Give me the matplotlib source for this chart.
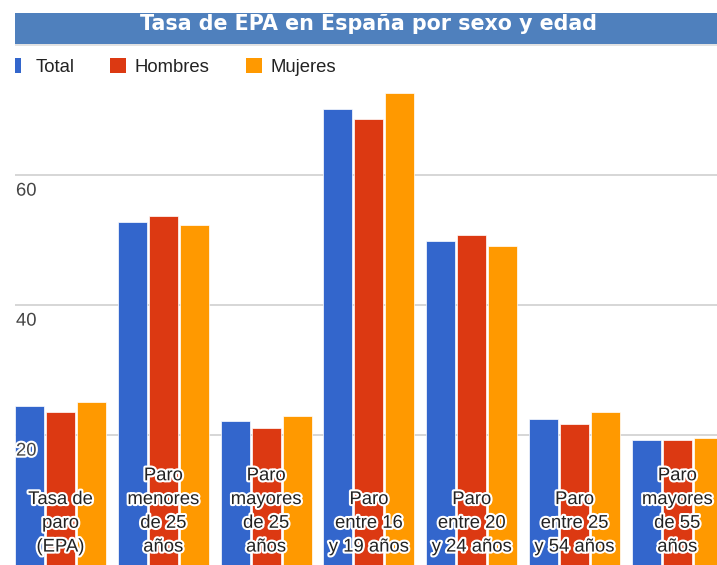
import matplotlib.pyplot as plt
import matplotlib.patheffects as pe
from matplotlib.patches import Rectangle
import numpy as np

plt.rcParams['font.family'] = ['Liberation Sans', 'DejaVu Sans']

# datos
categorias = ['Tasa de\nparo\n(EPA)', 'Paro\nmenores\nde 25\naños', 'Paro\nmayores\nde 25\naños',
              'Paro\nentre 16\ny 19 años', 'Paro\nentre 20\ny 24 años', 'Paro\nentre 25\ny 54 años',
              'Paro\nmayores\nde 55\naños']
series = ['Total', 'Hombres', 'Mujeres']
total = [24.4, 52.8, 22.2, 70.2, 49.9, 22.5, 19.3]
hombres = [23.5, 53.7, 21.1, 68.6, 50.7, 21.7, 19.3]
mujeres = [25.1, 52.3, 23.0, 72.6, 49.1, 23.6, 19.5]
yticks = [20, 40, 60]
colores = ['#3366cc', '#dc3912', '#ff9900']

W, H = 717, 565
fig = plt.figure(figsize=(W / 100, H / 100), dpi=100)


def px(x, y):
    # pixeles (origen arriba-izquierda) -> fracción de la figura
    return x / W, 1 - y / H


# ejes: x de 15 a 717 px, y de 45 a 565 px
ax = fig.add_axes([15 / W, 0, 1 - 15 / W, (H - 45) / H])
x = np.arange(len(categorias))
ancho = 0.282
paso = 0.302
for i, (vals, c) in enumerate(zip([total, hombres, mujeres], colores)):
    ax.bar(x + (i - 1) * paso, vals, ancho, color=c, edgecolor='white', linewidth=0.5, zorder=2)

ax.set_xlim((15 - 60.5) / 102.8, (717 - 60.5) / 102.8)
ax.set_ylim(0, 80)
ax.set_yticks(yticks)
ax.set_yticklabels([])
ax.tick_params(length=0)
ax.set_xticks([])
ax.grid(axis='y', color='#cccccc', linewidth=1.1, zorder=0)
for s in ax.spines.values():
    s.set_visible(False)

halo = [pe.withStroke(linewidth=3, foreground='white')]

# etiquetas del eje y, dentro del gráfico
for v in yticks:
    ax.annotate(str(v), xy=(0, v), xycoords=('axes fraction', 'data'), xytext=(0.7, -5.5),
                textcoords='offset points', va='top', ha='left', fontsize=13.3,
                color='#444444', path_effects=halo, zorder=5)

# etiquetas de categoría dentro de las barras
for xi, lab in zip(x, categorias):
    ax.text(xi, 1.45, lab, ha='center', va='bottom', fontsize=13.3, color='#222222',
            linespacing=1.52, path_effects=halo, zorder=5)

# barra de título
x0, y0 = px(15, 44)
fig.add_artist(Rectangle((x0, y0), 1 - x0, 31 / H, transform=fig.transFigure,
                         facecolor='#4f80bd', edgecolor='none'))
fig.add_artist(Rectangle((x0, px(0, 46)[1]), 1 - x0, 2 / H, transform=fig.transFigure,
                         facecolor='#e2e2e2', edgecolor='none'))
tx, ty = px(368.5, 30)
fig.text(tx, ty, 'Tasa de EPA en España por sexo y edad', ha='center', va='baseline',
         fontsize=14.9, fontweight='bold', color='white', family='DejaVu Sans')

# leyenda
cuadros = [(15, 6), (110, 16), (246, 16)]
textos_x = [36, 135, 271]
for (cx, cw), tx_, nombre, c in zip(cuadros, textos_x, series, colores):
    rx, ry = px(cx, 73)
    fig.add_artist(Rectangle((rx, ry), cw / W, 15 / H, transform=fig.transFigure,
                             facecolor=c, edgecolor='none'))
    lx, ly = px(tx_, 67)
    fig.text(lx, ly, nombre, ha='left', va='center', fontsize=13.3, color='#222222')

fig.savefig('out.png', dpi=100)
